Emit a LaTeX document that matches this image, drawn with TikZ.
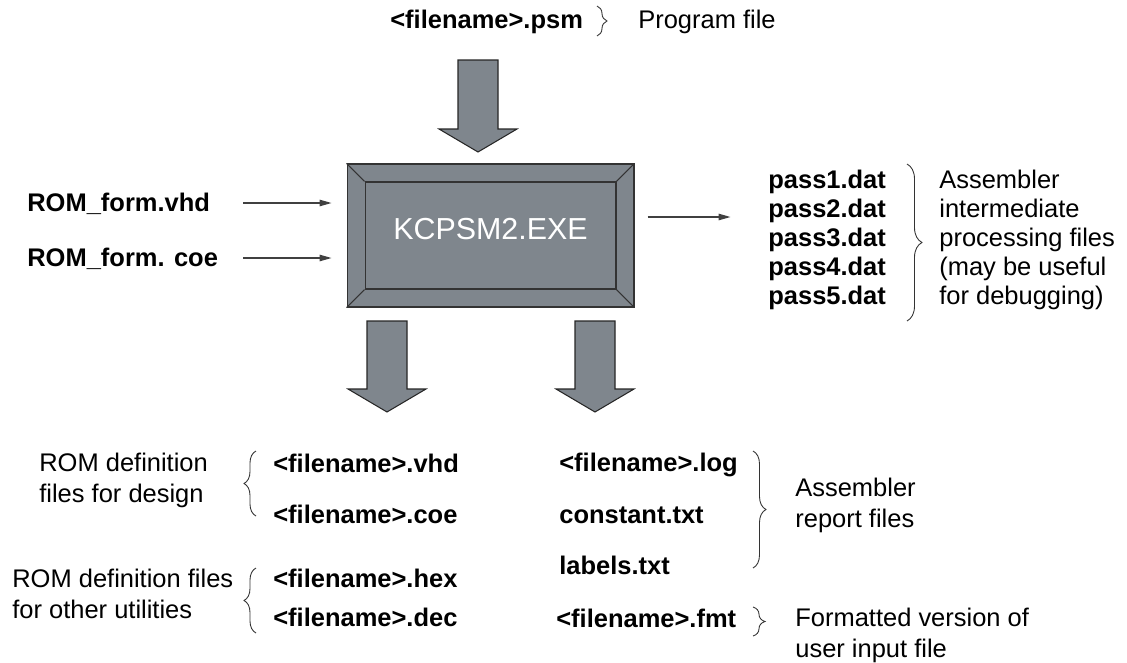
\documentclass[tikz,border=0pt]{standalone}
\usepackage{fontspec}
\setmainfont{Liberation Sans}
\usepackage{tikz}
\usetikzlibrary{arrows.meta, positioning, calc, decorations.pathreplacing}

\definecolor{kgray}{RGB}{127,134,141}

% broad grey arrow from #1 (top of shaft) to #2 (tip)
\newcommand{\fatarrow}[2]{%
  \filldraw[fatarr] ($(#1)+(-20,0)$) -- ($(#2)+(-20,-23)$) -- ($(#2)+(-39,-23)$) -- (#2)
    -- ($(#2)+(39,-23)$) -- ($(#2)+(20,-23)$) -- ($(#1)+(20,0)$) -- cycle;}

\begin{document}
\begin{tikzpicture}[
  x=0.02cm, y=-0.02cm,
  fname/.style={font=\fontsize{14.5}{16.4}\selectfont\bfseries, anchor=base west, inner sep=0pt},
  note/.style={font=\fontsize{14.5}{16.4}\selectfont, anchor=base west, inner sep=0pt, align=left},
  lownote/.style={note, font=\fontsize{14.5}{17.4}\selectfont},
  exebox/.style={rectangle, draw=black!80, fill=kgray, line width=0.6pt, inner sep=0pt},
  bevel/.style={draw=black!80, line width=0.6pt},
  arr/.style={-{Triangle[length=2.4mm, width=1.3mm]}, draw=black!75, line width=0.7pt},
  fatarr/.style={fill=kgray, draw=black!85, line width=0.6pt},
  brc/.style={decorate, decoration={brace, amplitude=#1}, draw=black!80, line width=0.5pt},
  brc/.default=0.24cm
]
\useasboundingbox (0,0) rectangle (1127,663);

% program file
\node[fname] (psm) at (390,28) {<filename>.psm};
\node[note] (prog) at (638,28) {Program file};
\draw[brc=0.2cm] (597,6) -- (597,36);
\coordinate (top0) at (478,60);
\coordinate (top1) at (478,152);
\fatarrow{top0}{top1}

% assembler
\node[exebox, minimum width=5.74cm, minimum height=2.86cm] (exe) at (490.5,235.5) {};
\node[exebox, minimum width=5.02cm, minimum height=2.14cm] (exein) at (exe.center) {};
\draw[bevel] (exe.north west) -- (exein.north west);
\draw[bevel] (exe.north east) -- (exein.north east);
\draw[bevel] (exe.south west) -- (exein.south west);
\draw[bevel] (exe.south east) -- (exein.south east);
\node[font=\fontsize{17.3}{20}\selectfont, text=white, inner sep=0pt] (exetxt) at ([yshift=0.12cm]exein.center) {KCPSM2.EXE};

% templates
\node[fname] (romvhd) at (27,211) {ROM\_form.vhd};
\node[fname] (romcoe) at (27,266) {ROM\_form. coe};
\coordinate (in1) at (243,203);
\coordinate (in2) at (243,258);
\draw[arr, shorten >=0.3cm] (in1) -- (in1 -| exe.west);
\draw[arr, shorten >=0.3cm] (in2) -- (in2 -| exe.west);

% intermediate files
\draw[arr, shorten <=0.26cm] ([yshift=0.37cm]exe.east) -- ++(96,0);
\node[fname] (p1) at (768,188) {pass1.dat};
\node[fname] (p2) at (768,217) {pass2.dat};
\node[fname] (p3) at (768,246) {pass3.dat};
\node[fname] (p4) at (768,275) {pass4.dat};
\node[fname] (p5) at (768,304) {pass5.dat};
\draw[brc=0.3cm] (907,164) -- (907,321);
\node[note] (interm) at (939,304) {Assembler\\intermediate\\processing files\\(may be useful\\for debugging)};

% outputs
\coordinate (bl0) at (387,321);
\coordinate (bl1) at (387,412);
\coordinate (br0) at (595,321);
\coordinate (br1) at (595,412);
\fatarrow{bl0}{bl1}
\fatarrow{br0}{br1}

\node[lownote] (romdes) at (39,502) {ROM definition\\files for design};
\node[fname] (fvhd) at (273,472) {<filename>.vhd};
\node[fname] (fcoe) at (273,523) {<filename>.coe};
\draw[brc] (256,516) -- (256,451);
\node[lownote] (romutil) at (12,618) {ROM definition files\\for other utilities};
\node[fname] (fhex) at (273,587) {<filename>.hex};
\node[fname] (fdec) at (273,626) {<filename>.dec};
\draw[brc] (256,633) -- (256,568);

\node[fname] (flog) at (559,471) {<filename>.log};
\node[fname] (fconst) at (559,523) {constant.txt};
\node[fname] (flabels) at (559,574) {labels.txt};
\node[fname] (ffmt) at (556,627) {<filename>.fmt};
\draw[brc=0.26cm] (753,451) -- (753,568);
\node[lownote] (report) at (795,527) {Assembler\\report files};
\draw[brc] (753,607) -- (753,636);
\node[lownote] (fmtnote) at (795,657) {Formatted version of\\user input file};
\end{tikzpicture}
\end{document}
